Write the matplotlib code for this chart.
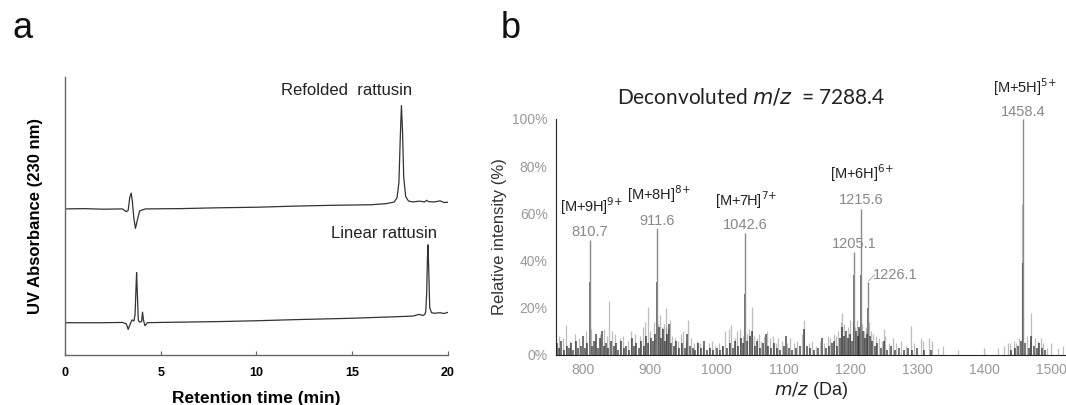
import matplotlib.pyplot as plt

plt.rcParams['font.family'] = ['Liberation Sans', 'DejaVu Sans']

# ===== PANEL A : HPLC TRACES =====
refolded_t = [0, 1, 2, 3, 3.2, 3.3, 3.38, 3.46, 3.52, 3.6, 3.68, 3.78, 3.9, 4.2, 6, 8, 10, 12, 14, 16,
              16.8, 17.2, 17.35, 17.45, 17.52, 17.58, 17.64, 17.7, 17.8, 17.95, 18.2, 18.5, 18.8, 18.9,
              19.0, 19.3, 19.6, 19.8, 20]
refolded_y = [52.5, 52.6, 52.4, 52.5, 51.5, 52.0, 56.5, 58.2, 55.0, 49.0, 45.5, 48.5, 51.8, 52.5, 52.6,
              52.9, 53.1, 53.5, 53.8, 54.0, 54.4, 55.0, 56.5, 62.0, 78.0, 89.6, 80.0, 64.0, 57.0, 55.3,
              55.0, 55.3, 55.0, 55.6, 55.1, 55.0, 55.4, 54.8, 54.9]

linear_t = [0, 1, 2, 3, 3.2, 3.3, 3.4, 3.5, 3.6, 3.66, 3.71, 3.74, 3.78, 3.83, 3.9, 4.0, 4.05, 4.1,
            4.18, 4.3, 5, 8, 10, 12, 15, 17.5, 18.2, 18.5, 18.7, 18.8, 18.85, 18.9, 18.94, 18.97,
            19.01, 19.06, 19.15, 19.3, 19.6, 19.8, 20]
linear_y = [11.6, 11.6, 11.6, 11.7, 11.2, 9.2, 11.0, 12.6, 12.2, 14.5, 24.0, 29.6, 22.0, 12.5, 11.8,
            12.0, 15.4, 12.5, 10.5, 11.6, 11.7, 12.0, 12.3, 12.7, 13.2, 13.8, 14.0, 14.6, 14.2, 14.6,
            15.5, 22.0, 35.0, 39.6, 30.0, 17.0, 15.2, 15.0, 15.2, 14.9, 15.3]

# ===== PANEL B : MASS SPECTRUM =====
peak_mz = [810.7, 911.6, 1042.6, 1205.1, 1215.6, 1226.1, 1458.4]
peak_int = [48.7, 53.8, 51.7, 43.6, 62.0, 31.0, 100.0]
ion_labels = ['[M+9H]$^{9{+}}$', '[M+8H]$^{8{+}}$', '[M+7H]$^{7{+}}$', '[M+6H]$^{6{+}}$', '[M+5H]$^{5{+}}$']
ion_mz = [810.7, 911.6, 1042.6, 1215.6, 1458.4]

dark_mz = [762, 765, 768, 772, 776, 779, 783, 786, 790, 793, 797, 800, 803, 807, 810.7, 814, 817, 820,
           823, 826, 829, 832, 835, 838, 842, 846, 850, 853, 857, 861, 865, 869, 873, 876, 880, 884,
           887, 891, 895, 898, 902, 905, 908, 911.6, 914, 917, 920, 923, 926, 929, 932, 936, 940, 944,
           948, 952, 956, 960, 964, 968, 972, 976, 981, 985, 990, 995, 1000, 1005, 1010, 1015, 1020,
           1024, 1028, 1032, 1036, 1040, 1042.6, 1046, 1050, 1053, 1057, 1061, 1065, 1069, 1073, 1077,
           1081, 1086, 1090, 1095, 1100, 1103, 1108, 1113, 1118, 1124, 1130, 1135, 1140, 1146, 1152,
           1158, 1163, 1168, 1172, 1176, 1180, 1184, 1188, 1191, 1194, 1197, 1200, 1202, 1205.1, 1208,
           1211, 1213, 1215.6, 1218, 1221, 1224, 1226.1, 1229, 1232, 1236, 1240, 1245, 1250, 1255,
           1260, 1266, 1272, 1280, 1286, 1292, 1300, 1310, 1320, 1440, 1446, 1450, 1455, 1458.4, 1461,
           1466, 1470, 1474, 1478, 1482, 1486, 1490]
dark_int = [5, 3, 6, 2, 4, 3, 5, 2, 6, 3, 4, 8, 3, 5, 31, 4, 6, 9, 3, 7, 10, 4, 5, 3, 6, 4, 5, 2, 6, 3,
            4, 2, 7, 4, 5, 3, 6, 4, 8, 5, 7, 6, 9, 31, 12, 7, 11, 6, 9, 13, 5, 4, 6, 3, 5, 3, 9, 4, 3,
            2, 5, 3, 6, 2, 3, 2, 3, 2, 4, 3, 5, 3, 6, 4, 7, 5, 26, 6, 8, 10, 4, 6, 3, 5, 9, 4, 3, 5,
            3, 2, 4, 8, 3, 2, 3, 4, 11, 4, 3, 2, 3, 7, 3, 4, 5, 6, 4, 7, 12, 8, 10, 7, 9, 6, 34, 10,
            8, 12, 34, 10, 7, 9, 20, 8, 6, 4, 5, 3, 6, 2, 4, 2, 3, 2, 3, 2, 3, 2, 2, 2, 3, 4, 6, 39,
            5, 3, 8, 4, 3, 5, 3, 2]

light_mz = [764, 770, 775, 781, 788, 795, 805, 812, 818, 825, 832, 836, 839.6, 844, 848, 855, 860, 867,
            872, 878, 885, 890, 893, 897, 900, 906, 912, 915, 918, 921, 923.7, 925, 928, 931, 934, 938,
            942, 946, 950, 954, 957.5, 962, 966, 970, 975, 980, 988, 993, 998, 1003, 1008, 1013, 1018,
            1021, 1027, 1031, 1035, 1039, 1045, 1048, 1053, 1056, 1060, 1063, 1067, 1071, 1075, 1079,
            1084, 1088, 1092, 1098, 1105, 1110, 1115, 1120, 1127, 1130.6, 1138, 1143, 1148, 1155, 1160,
            1166, 1170, 1175, 1178, 1182, 1186, 1188, 1190, 1196, 1199, 1203, 1207, 1210, 1212, 1217,
            1220, 1223, 1227, 1230, 1233, 1238, 1243, 1247, 1249.5, 1252, 1258, 1263, 1268, 1275, 1283,
            1291, 1295, 1305, 1308, 1318, 1322, 1330, 1338, 1360, 1400, 1420, 1430, 1436, 1437.6, 1444,
            1448, 1452, 1457, 1463, 1468, 1470, 1476, 1480, 1484, 1488, 1494, 1500, 1510, 1518]
light_int = [8, 7, 12.7, 6, 9, 7, 10, 11, 6, 9, 11, 8, 23, 10, 9, 7, 8, 6, 10, 9, 8, 12, 14, 20.5, 10,
             14, 13, 17, 12, 13, 20, 12, 11, 15, 8, 7, 6, 9, 10, 6, 15, 7, 5, 6, 5, 4, 5, 6, 4, 5, 4,
             10, 11, 12.7, 7, 10, 11, 8, 9, 11, 20.5, 8, 7, 9, 6, 8, 10, 7, 8, 5, 7, 6, 5, 7, 5, 6, 9,
             15, 5, 6, 4, 6, 5, 8, 7, 9, 8, 10, 14, 18, 13, 12, 15, 14, 12, 15, 11, 13, 10, 12, 14, 10,
             9, 8, 7, 6, 11, 8, 5, 7, 5, 6, 4, 12.4, 5, 7, 6, 7, 6, 3, 4, 2, 3, 3, 4, 5, 5, 6, 5, 7,
             64, 8, 6, 18, 7, 6, 7, 5, 3, 5, 3, 4]

x_ticks_b = [800, 900, 1000, 1100, 1200, 1300, 1400, 1500]
y_ticks_b = [0, 20, 40, 60, 80, 100]

fig = plt.figure(figsize=(10.66, 4.05), dpi=100)

# ----- panel a -----
ax = fig.add_axes([0.061, 0.1235, 0.359, 0.687])
ax.plot(refolded_t, refolded_y, color='#333333', lw=0.9)
ax.plot(linear_t, linear_y, color='#333333', lw=0.9)
ax.set_xlim(0, 20)
ax.set_ylim(0, 100)
ax.set_xticks([0, 5, 10, 15, 20])
ax.set_yticks([])
for s in ['top', 'right']:
    ax.spines[s].set_visible(False)
for s in ['left', 'bottom']:
    ax.spines[s].set_color('#666666')
    ax.spines[s].set_linewidth(1.0)
ax.tick_params(axis='x', direction='in', length=3, color='#666666', labelsize=9, pad=9)
for lab in ax.get_xticklabels():
    lab.set_fontweight('bold')
ax.set_xlabel('Retention time (min)', fontsize=12.5, fontweight='bold', labelpad=8)
ax.set_ylabel('UV Absorbance (230 nm)', fontsize=12, fontweight='bold', labelpad=16)
ax.text(11.3, 95, 'Refolded  rattusin', fontsize=12, color='#222222', va='center')
ax.text(13.9, 43.5, 'Linear rattusin', fontsize=12, color='#222222', va='center')
fig.text(0.012, 0.905, 'a', fontsize=26, color='#111111')

# ----- panel b -----
bx = fig.add_axes([0.5216, 0.1235, 0.4784, 0.5827])
bx.vlines(light_mz, 0, light_int, color='#888888', lw=0.9, alpha=0.55)
bx.vlines(dark_mz, 0, dark_int, color='#111111', lw=1.1, alpha=0.75)
bx.vlines(peak_mz, 0, peak_int, color='#8a8a8a', lw=1.0)
bx.set_xlim(760, 1522)
bx.set_ylim(0, 100)
bx.set_xticks(x_ticks_b)
bx.set_yticks(y_ticks_b)
bx.set_yticklabels([f'{v}%' for v in y_ticks_b])
bx.tick_params(length=0, labelsize=10, labelcolor='#999999', pad=6)
for s in ['top', 'right']:
    bx.spines[s].set_visible(False)
bx.spines['left'].set_color('#222222')
bx.spines['bottom'].set_color('#222222')
bx.set_ylabel('Relative intensity (%)', fontsize=12, color='#333333', labelpad=4)
bx.set_xlabel('$m/z$ (Da)', fontsize=13, color='#222222', labelpad=2)

# peak value labels
val_style = dict(ha='center', va='bottom', fontsize=10.5, color='#888888', clip_on=False)
bx.text(810.7, 49, '810.7', **val_style)
bx.text(911.6, 54, '911.6', **val_style)
bx.text(1042.6, 52, '1042.6', **val_style)
bx.text(1215.6, 62.5, '1215.6', **val_style)
bx.text(1205.1, 44, '1205.1', **val_style)
bx.text(1458.4, 100, '1458.4', **val_style)
bx.text(1233, 34, '1226.1', ha='left', va='center', fontsize=10.5, color='#888888')
bx.plot([1227.5, 1236], [31.5, 34], color='#aaaaaa', lw=0.7)

# ion labels
ion_y = [58.5, 63.5, 61, 72.5, 109]
for lab, mz, yy in zip(ion_labels, ion_mz, ion_y):
    bx.text(mz + 2, yy, lab, ha='center', va='bottom', fontsize=10.5, color='#222222', clip_on=False)

fig.text(0.705, 0.76, 'Deconvoluted $m/z$  = 7288.4', fontsize=15, color='#222222',
         ha='center', va='center', family=['Lato', 'DejaVu Sans'])
fig.text(0.470, 0.905, 'b', fontsize=26, color='#111111')

fig.savefig('out.png', dpi=100)
